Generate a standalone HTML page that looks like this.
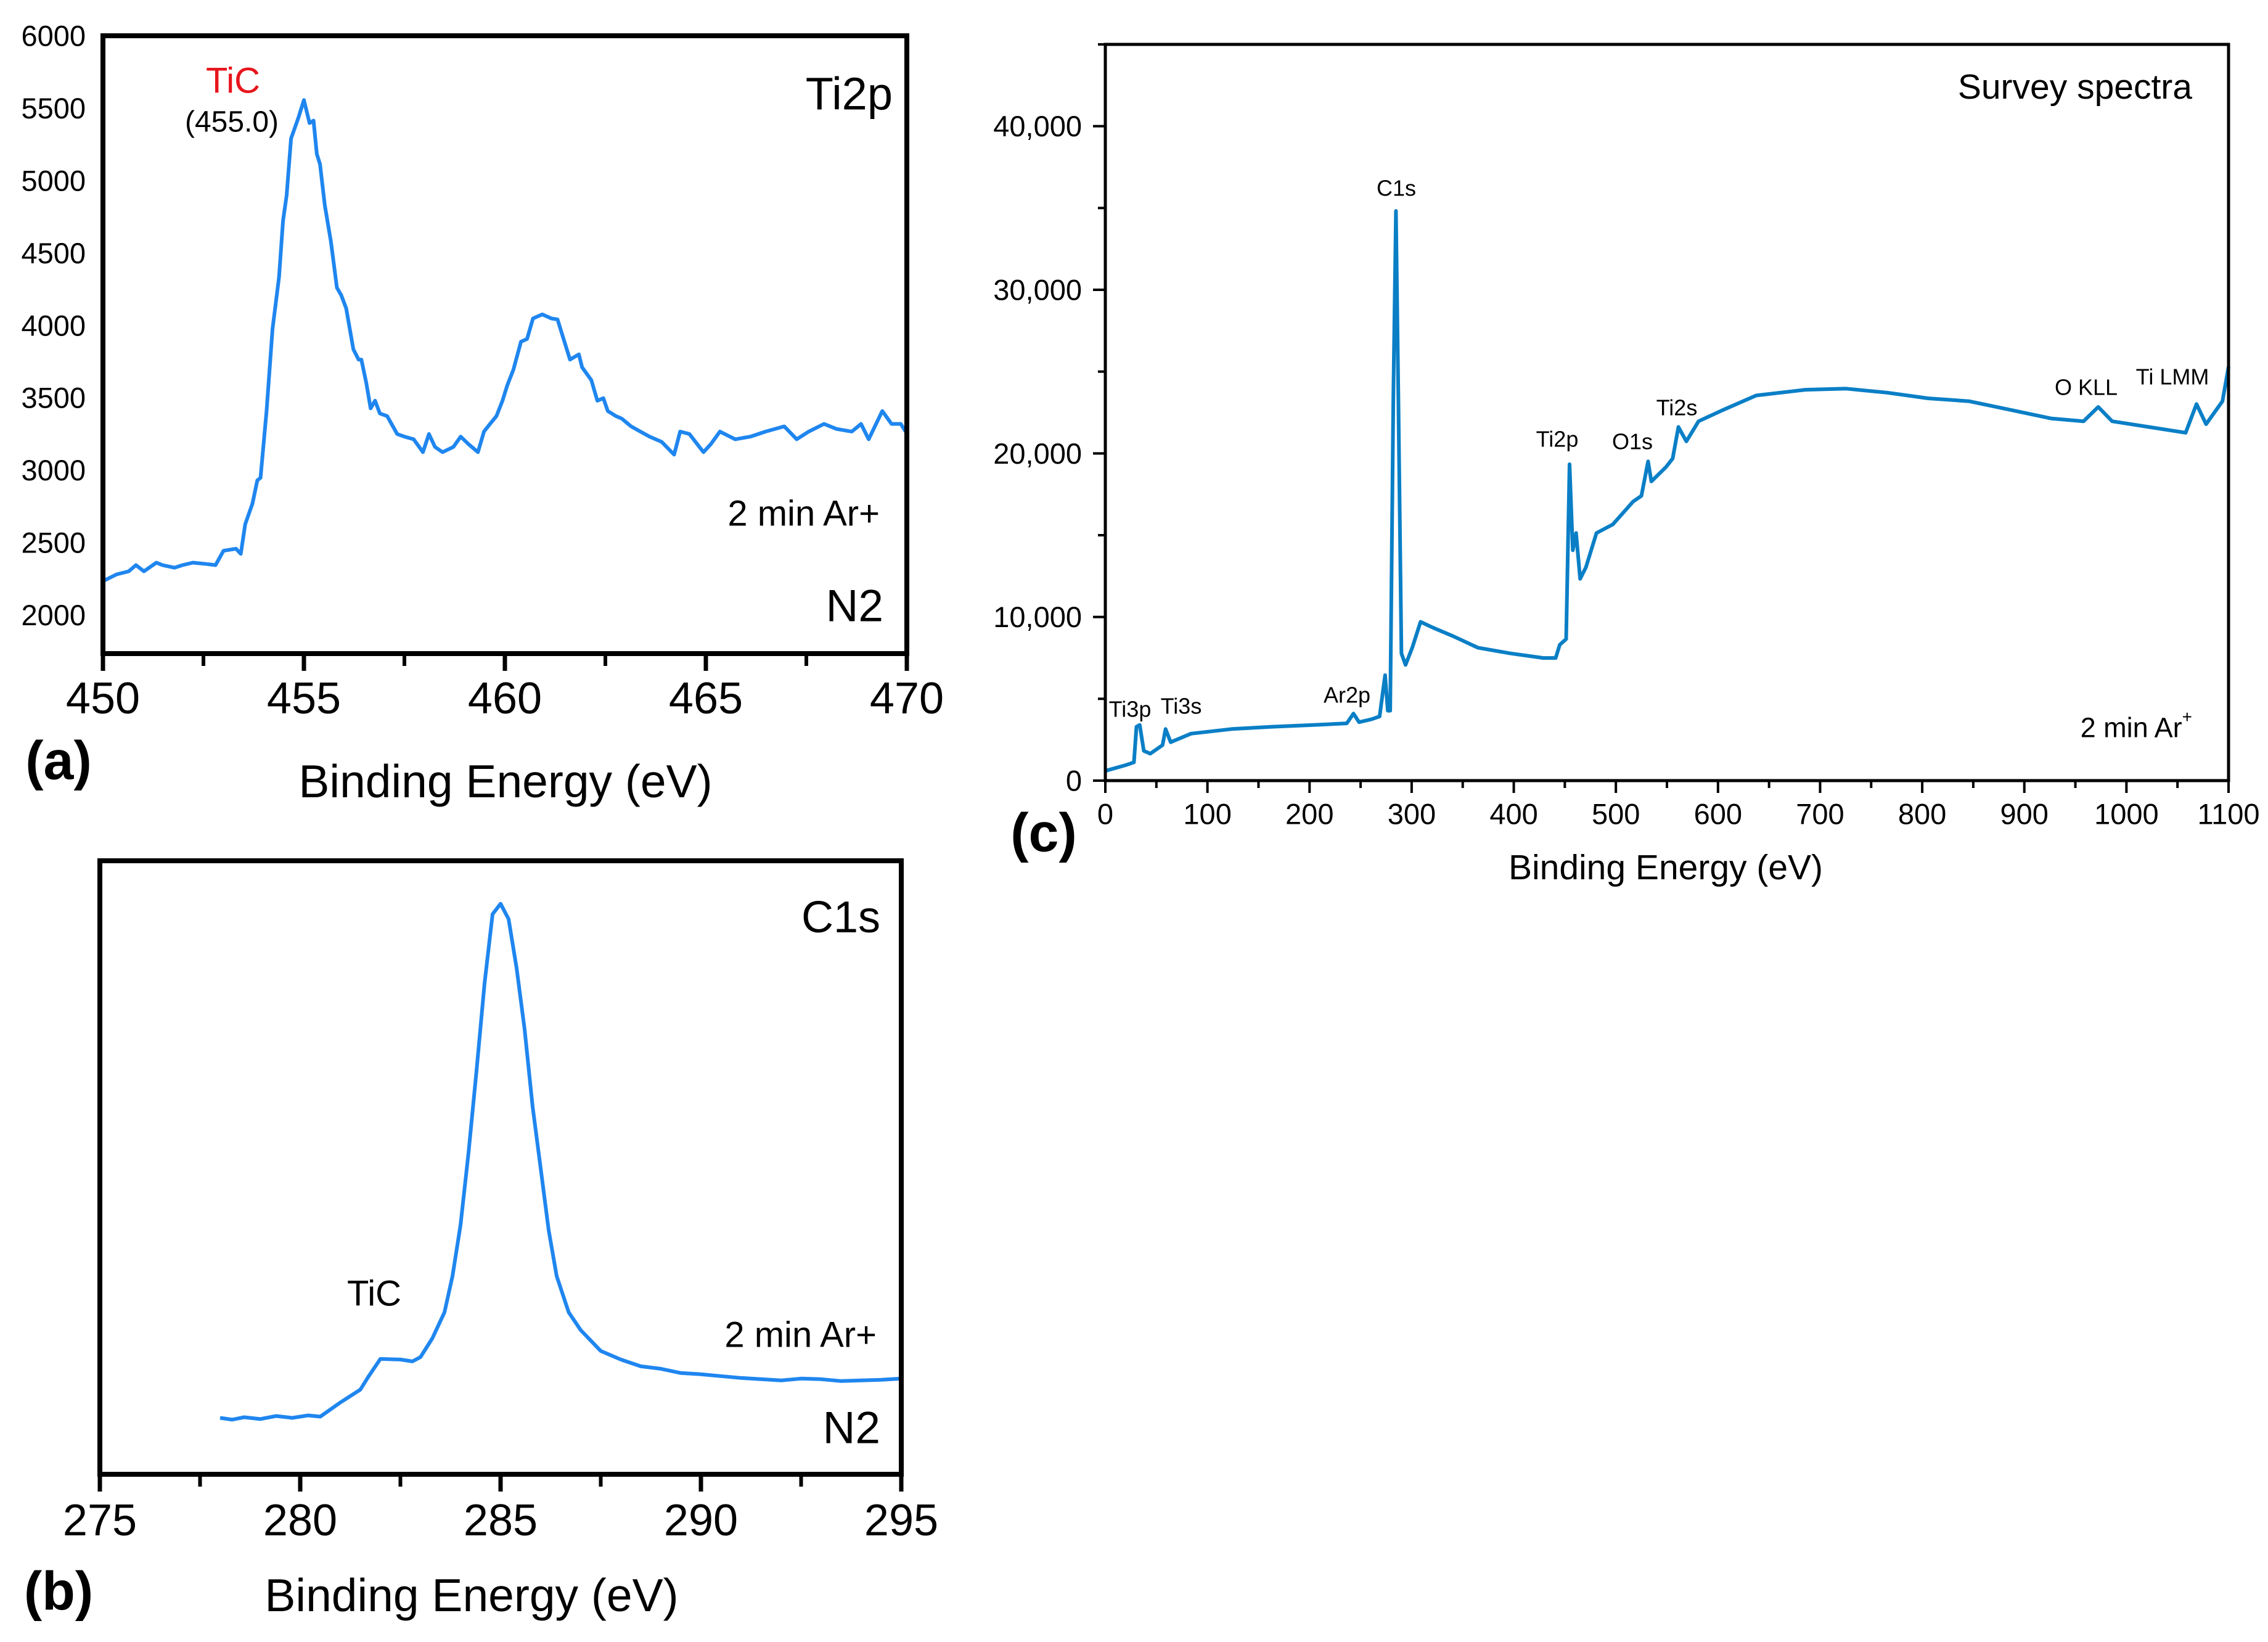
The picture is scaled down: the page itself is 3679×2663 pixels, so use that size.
<!DOCTYPE html>
<html><head><meta charset="utf-8">
<style>
html,body{margin:0;padding:0;background:#fff;}
svg{display:block;font-family:"Liberation Sans",Arial,sans-serif;}
</style></head>
<body>
<svg id="fig" width="3679" height="2663" viewBox="0 0 3679 2663" xmlns="http://www.w3.org/2000/svg">
  <rect x="0" y="0" width="3679" height="2663" fill="#fff"/>
  <g id="pa"></g>
  <g id="pb"></g>
  <g id="pc"></g>
</svg>
<script>
// ---- Panel (a) Ti2p data ----
const aEnergy = [450.03,450.34,450.64,450.82,451.02,451.33,451.48,451.78,451.98,452.24,452.59,452.80,453.00,453.31,453.43,453.54,453.72,453.84,453.92,454.07,454.22,454.38,454.48,454.57,454.68,454.86,455.00,455.14,455.24,455.32,455.40,455.52,455.67,455.82,455.93,456.05,456.23,456.36,456.43,456.55,456.66,456.77,456.89,457.07,457.32,457.50,457.73,457.96,458.11,458.26,458.45,458.72,458.90,459.10,459.33,459.48,459.63,459.79,459.94,460.06,460.21,460.40,460.55,460.70,460.93,461.16,461.31,461.46,461.62,461.84,461.92,462.15,462.30,462.45,462.56,462.76,462.91,463.14,463.37,463.60,463.90,464.21,464.36,464.59,464.94,465.12,465.35,465.73,466.11,466.49,466.95,467.26,467.56,467.94,468.25,468.63,468.86,469.05,469.39,469.62,469.85,469.97];
const aCounts = [2238,2281,2302,2345,2302,2362,2345,2327,2345,2362,2352,2345,2444,2458,2423,2628,2770,2930,2948,3409,3977,4332,4722,4900,5290,5432,5556,5397,5414,5184,5113,4829,4581,4261,4208,4119,3835,3764,3764,3604,3427,3480,3392,3374,3250,3232,3214,3125,3250,3161,3125,3161,3232,3179,3125,3267,3320,3374,3480,3587,3693,3888,3906,4048,4076,4048,4041,3906,3764,3800,3711,3622,3480,3498,3409,3374,3356,3303,3267,3232,3196,3108,3267,3250,3125,3179,3267,3214,3232,3267,3303,3214,3267,3320,3285,3267,3320,3214,3409,3320,3320,3267];
const aXTicks = [450,455,460,465,470];
const aYTicks = [2000,2500,3000,3500,4000,4500,5000,5500,6000];

// ---- Panel (b) C1s data (arbitrary units) ----
const bEnergy = [278,278.3,278.6,279,279.4,279.8,280.2,280.5,281,281.5,281.7,282,282.5,282.8,283,283.3,283.6,283.8,284,284.2,284.4,284.6,284.8,285,285.2,285.4,285.6,285.8,286,286.2,286.4,286.7,287,287.5,288,288.5,289,289.5,290,290.5,291,291.5,292,292.5,293,293.5,294,294.5,295];
const bCounts = [9.2,8.9,9.3,9.0,9.5,9.2,9.6,9.4,11.7,13.8,15.9,18.8,18.7,18.4,19.1,22.2,26.4,32.3,40.6,52.4,65.8,80.0,91.3,93.0,90.5,82.5,72.5,59.9,49.9,39.8,32.3,26.4,23.5,20.1,18.7,17.6,17.2,16.5,16.3,16.0,15.7,15.5,15.3,15.6,15.5,15.2,15.3,15.4,15.6];
const bXTicks = [275,280,285,290,295];

// ---- Panel (c) survey data ----
const cEnergy = [0,20,28,30.5,33.7,37.7,44,56,59,64,84,124,164,204,236.5,243,248.5,260.6,268.6,274,276.6,279,282,284.6,287,290,294,300.6,308.7,320.7,340.7,364.8,396.8,428.9,441,445,451.3,454.6,457.8,461,465,470.6,481,497,517,525,531.5,534.7,549,555.6,561.2,569,581,605.3,637.4,685.5,725.5,765.6,805.7,845.8,885.9,926,958,972.4,986,1022,1058,1068.6,1078,1094,1100];
const cCounts = [596,946,1121,3293,3398,1822,1646,2172,3153,2347,2872,3153,3293,3398,3503,4098,3573,3748,3923,6446,4274,4274,23190,34820,23190,7777,7076,8127,9703,9353,8828,8127,7777,7496,7496,8302,8652,19337,14082,15133,12331,13031,15133,15659,17060,17410,19512,18286,19162,19687,21614,20738,21964,22664,23540,23890,23960,23715,23365,23190,22664,22139,21964,22839,21964,21614,21263,23015,21789,23190,25291];
const cXTicks = [0,100,200,300,400,500,600,700,800,900,1000,1100];
const cYTicks = [0,10000,20000,30000,40000];
const cYTickLabels = ["0","10,000","20,000","30,000","40,000"];

const NS = "http://www.w3.org/2000/svg";
function mk(parent, tag, attrs, text){
  const el = document.createElementNS(NS, tag);
  for (const k in attrs) el.setAttribute(k, attrs[k]);
  if (text !== undefined) el.textContent = text;
  parent.appendChild(el);
  return el;
}
function lin(d0,d1,r0,r1){ return v => r0 + (v-d0)/(d1-d0)*(r1-r0); }

// ===== Panel A =====
(function(){
  const g = document.getElementById('pa');
  const L=167,R=1471,T=58,B=1060;
  const x = lin(450,470,L,R), y = lin(1734,6000,B,T);
  let d = aEnergy.map((e,i)=>(i?'L':'M')+x(e).toFixed(1)+','+y(aCounts[i]).toFixed(1)).join(' ');
  const line = mk(g,'path',{d:d,fill:'none',stroke:'#1f86ef','stroke-width':6,'stroke-linejoin':'round'});
  
  
  const fr = mk(g,'rect',{x:L,y:T,width:R-L,height:B-T,fill:'none',stroke:'#000','stroke-width':8});
  
  
  for (let v=450; v<=470; v+=2.5){
    const major = (v%5===0);
    const t = mk(g,'line',{x1:x(v),x2:x(v),y1:B,y2:B+(major?28:20),stroke:'#000','stroke-width':major?7:6});
    
    
  }
  aXTicks.forEach(v=>{
    const t = mk(g,'text',{x:x(v),y:1133,'font-size':72,'text-anchor':'middle','dominant-baseline':'central'},String(v));
    
    
  });
  aYTicks.forEach(v=>{
    const t = mk(g,'text',{x:139,y:y(v),'font-size':47,'text-anchor':'end','dominant-baseline':'central'},String(v));
    
    
  });
})();

// ===== Panel B =====
(function(){
  const g = document.getElementById('pb');
  const L=162,R=1462,T=1396,B=2391;
  const x = lin(275,295,L,R), y = lin(0,100,B,T);
  let d = bEnergy.map((e,i)=>(i?'L':'M')+x(e).toFixed(1)+','+y(bCounts[i]).toFixed(1)).join(' ');
  const line = mk(g,'path',{d:d,fill:'none',stroke:'#1f86ef','stroke-width':6,'stroke-linejoin':'round'});
  
  
  const fr = mk(g,'rect',{x:L,y:T,width:R-L,height:B-T,fill:'none',stroke:'#000','stroke-width':8});
  
  
  for (let v=275; v<=295; v+=2.5){
    const major = (v%5===0);
    const t = mk(g,'line',{x1:x(v),x2:x(v),y1:B,y2:B+(major?28:20),stroke:'#000','stroke-width':major?7:6});
    
    
  }
  bXTicks.forEach(v=>{
    const t = mk(g,'text',{x:x(v),y:2466,'font-size':72,'text-anchor':'middle','dominant-baseline':'central'},String(v));
    
    
  });
})();

// ===== Panel C =====
(function(){
  const g = document.getElementById('pc');
  const L=1793,R=3615,T=72,B=1266;
  const x = lin(0,1100,L,R), y = lin(0,45000,B,T);
  let d = cEnergy.map((e,i)=>(i?'L':'M')+x(e).toFixed(1)+','+y(cCounts[i]).toFixed(1)).join(' ');
  const line = mk(g,'path',{d:d,fill:'none',stroke:'#0a7fc6','stroke-width':6,'stroke-linejoin':'round'});
  
  
  const fr = mk(g,'rect',{x:L,y:T,width:R-L,height:B-T,fill:'none',stroke:'#000','stroke-width':5});
  
  
  for (let v=0; v<=1100; v+=50){
    const major = (v%100===0);
    const t = mk(g,'line',{x1:x(v),x2:x(v),y1:B,y2:B+(major?20:12),stroke:'#000','stroke-width':4});
    
    
  }
  for (let v=0; v<=45000; v+=5000){
    const major = (v%10000===0);
    const t = mk(g,'line',{x1:L-(major?20:12),x2:L,y1:y(v),y2:y(v),stroke:'#000','stroke-width':4});
    
    
  }
  cXTicks.forEach(v=>{
    const t = mk(g,'text',{x:x(v),y:1320,'font-size':47,'text-anchor':'middle','dominant-baseline':'central'},String(v));
    
    
  });
  cYTicks.forEach((v,i)=>{
    const t = mk(g,'text',{x:1755,y:y(v),'font-size':47,'text-anchor':'end','dominant-baseline':'central'},cYTickLabels[i]);
    
    
  });
})();
</script>
<script>
// Static annotations
(function(){
  const s = document.getElementById('fig');
  const NS="http://www.w3.org/2000/svg";
  const items = [
    ['panel-a-x-title',820,1267,75,'middle','#000','Binding Energy (eV)',''],
    ['panel-a-letter',95,1233,88,'middle','#000','(a)','bold'],
    ['tic-peak-label',378,131,58,'middle','#e8141b','TiC',''],
    ['tic-peak-position',376,198,48,'middle','#000','(455.0)',''],
    ['ti2p-label',1448,152,74,'end','#000','Ti2p',''],
    ['ar-sputter-label-a',1427,833,58,'end','#000','2 min Ar+',''],
    ['n2-label-a',1433,983,73,'end','#000','N2',''],
    ['panel-b-x-title',765,2587,75,'middle','#000','Binding Energy (eV)',''],
    ['panel-b-letter',95,2580,88,'middle','#000','(b)','bold'],
    ['c1s-label',1428,1488,72,'end','#000','C1s',''],
    ['tic-shoulder-label',607,2098,58,'middle','#000','TiC',''],
    ['ar-sputter-label-b',1422,2165,58,'end','#000','2 min Ar+',''],
    ['n2-label-b',1428,2316,73,'end','#000','N2',''],
    ['panel-c-x-title',2702,1407,57,'middle','#000','Binding Energy (eV)',''],
    ['panel-c-letter',1693,1350,88,'middle','#000','(c)','bold'],
    ['survey-spectra-label',3556,141,57,'end','#000','Survey spectra',''],
    ['c1s-peak-label',2265,305,36,'middle','#000','C1s',''],
    ['ti3p-peak-label',1833,1150,36,'middle','#000','Ti3p',''],
    ['ti3s-peak-label',1916,1145,36,'middle','#000','Ti3s',''],
    ['ar2p-peak-label',2185,1127,36,'middle','#000','Ar2p',''],
    ['ti2p-peak-label',2526,712,36,'middle','#000','Ti2p',''],
    ['o1s-peak-label',2648,716,36,'middle','#000','O1s',''],
    ['ti2s-peak-label',2720,661,36,'middle','#000','Ti2s',''],
    ['o-kll-peak-label',3384,628,36,'middle','#000','O KLL',''],
    ['ti-lmm-peak-label',3524,611,36,'middle','#000','Ti LMM','']
  ];
  items.forEach(it=>{
    const t=document.createElementNS(NS,'text');
    t.setAttribute('x',it[1]); t.setAttribute('y',it[2]);
    t.setAttribute('font-size',it[3]); t.setAttribute('text-anchor',it[4]);
    t.setAttribute('fill',it[5]); t.setAttribute('dominant-baseline','central');
    if(it[7]) t.setAttribute('font-weight',it[7]);
    t.textContent=it[6];
    
    
    s.appendChild(t);
  });
  const ar=document.createElementNS(NS,'text');
  ar.setAttribute('x',3556); ar.setAttribute('y',1180);
  ar.setAttribute('font-size',45); ar.setAttribute('text-anchor','end');
  ar.setAttribute('dominant-baseline','central');
  ar.innerHTML='2 min Ar<tspan font-size="28" dy="-18">+</tspan>';
  
  
  s.appendChild(ar);
})();
</script>
</body></html>
